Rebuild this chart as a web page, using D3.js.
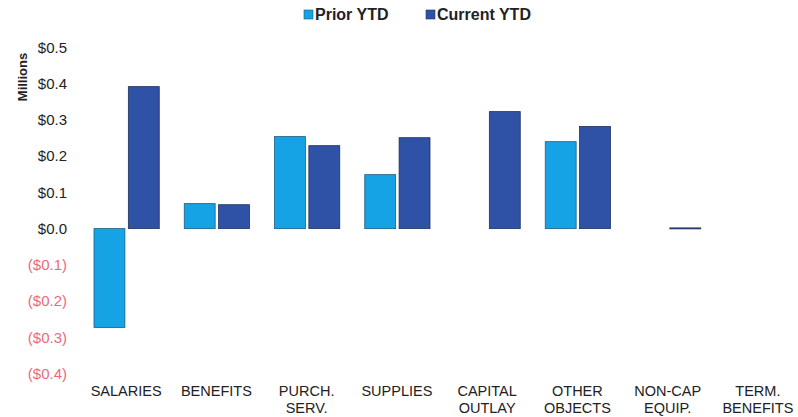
<!DOCTYPE html>
<html>
<head>
<meta charset="utf-8">
<script src="https://cdn.jsdelivr.net/npm/d3@7"></script>
<style>
  html, body { margin: 0; padding: 0; background: #fff; }
  svg { display: block; font-family: "Liberation Sans", Arial, sans-serif; }
</style>
</head>
<body>
<svg id="chart" width="798" height="417"></svg>
<script>
// Budget categories (two-line labels split on "|")
const categories = ["SALARIES", "BENEFITS", "PURCH.|SERV.", "SUPPLIES", "CAPITAL|OUTLAY", "OTHER|OBJECTS", "NON-CAP|EQUIP.", "TERM.|BENEFITS"];
// Values in millions of dollars
const priorYTD   = [-0.273, 0.069, 0.254, 0.149, 0, 0.240, 0, 0];
const currentYTD = [0.392, 0.066, 0.229, 0.251, 0.323, 0.282, 0.002, 0];
const seriesNames = ["Prior YTD", "Current YTD"];
const yTicks = [0.5, 0.4, 0.3, 0.2, 0.1, 0.0, -0.1, -0.2, -0.3, -0.4];

const colors = ["#15a3e6", "#2f51a6"];
const strokes = ["#1d5d80", "#1e3260"];

const svg = d3.select("#chart");

const x = d3.scaleBand()
  .domain(categories)
  .range([81, 803])
  .paddingInner(0)
  .paddingOuter(0);

const inner = d3.scaleBand()
  .domain([0, 1])
  .range([13, x.bandwidth() - 12])
  .paddingInner(0.1);

const y = d3.scaleLinear()
  .domain([-0.4, 0.5])
  .range([373.5, 47.5]);

// Y axis labels
const fmt = v => {
  const s = "$" + Math.abs(v).toFixed(1);
  return v < 0 ? "(" + s + ")" : s;
};
const yAxis = d3.axisLeft(y).tickValues(yTicks).tickFormat(fmt).tickSize(0).tickPadding(0);
const yg = svg.append("g").attr("transform", "translate(67,0)").call(yAxis);
yg.select(".domain").remove();
yg.selectAll("text")
  .attr("font-size", 15)
  .attr("font-family", "\"Liberation Sans\", Arial, sans-serif")
  .attr("fill", d => d < 0 ? "#ec6a7e" : "#222");

svg.append("text")
  .attr("transform", "translate(27,77) rotate(-90)")
  .attr("text-anchor", "middle")
  .attr("font-size", 13)
  .attr("font-weight", "bold")
  .attr("fill", "#222")
  .text("Millions");

// Bars
const groups = svg.append("g").selectAll("g")
  .data(categories)
  .join("g")
  .attr("transform", d => `translate(${x(d)},0)`);

groups.selectAll("rect")
  .data((d, i) => [priorYTD[i], currentYTD[i]].map((v, s) => ({ v, s })))
  .join("rect")
  .filter(d => d.v !== 0)
  .attr("x", d => inner(d.s))
  .attr("width", inner.bandwidth())
  .attr("y", d => Math.min(y(d.v), y(0)))
  .attr("height", d => Math.max(1, Math.abs(y(d.v) - y(0))))
  .attr("fill", d => colors[d.s])
  .attr("stroke", d => strokes[d.s])
  .attr("stroke-width", 0.8);

// Category labels
const xg = svg.append("g");
categories.forEach(c => {
  const lines = c.split("|");
  const t = xg.append("text")
    .attr("x", x(c) + x.bandwidth() / 2)
    .attr("y", 396)
    .attr("text-anchor", "middle")
    .attr("font-size", 14.5)
    .attr("fill", "#222");
  lines.forEach((ln, k) => {
    t.append("tspan")
      .attr("x", x(c) + x.bandwidth() / 2)
      .attr("dy", k === 0 ? 0 : 17)
      .text(ln);
  });
});

// Legend
const legend = svg.append("g");
const legendX = [304, 426];
seriesNames.forEach((n, s) => {
  legend.append("rect")
    .attr("x", legendX[s]).attr("y", 10)
    .attr("width", 9).attr("height", 9)
    .attr("fill", colors[s])
    .attr("stroke", strokes[s]).attr("stroke-width", 0.6);
  legend.append("text")
    .attr("x", legendX[s] + 11).attr("y", 20)
    .attr("font-size", 16)
    .attr("font-weight", "bold")
    .attr("fill", "#222")
    .text(n);
});
</script>
</body>
</html>
